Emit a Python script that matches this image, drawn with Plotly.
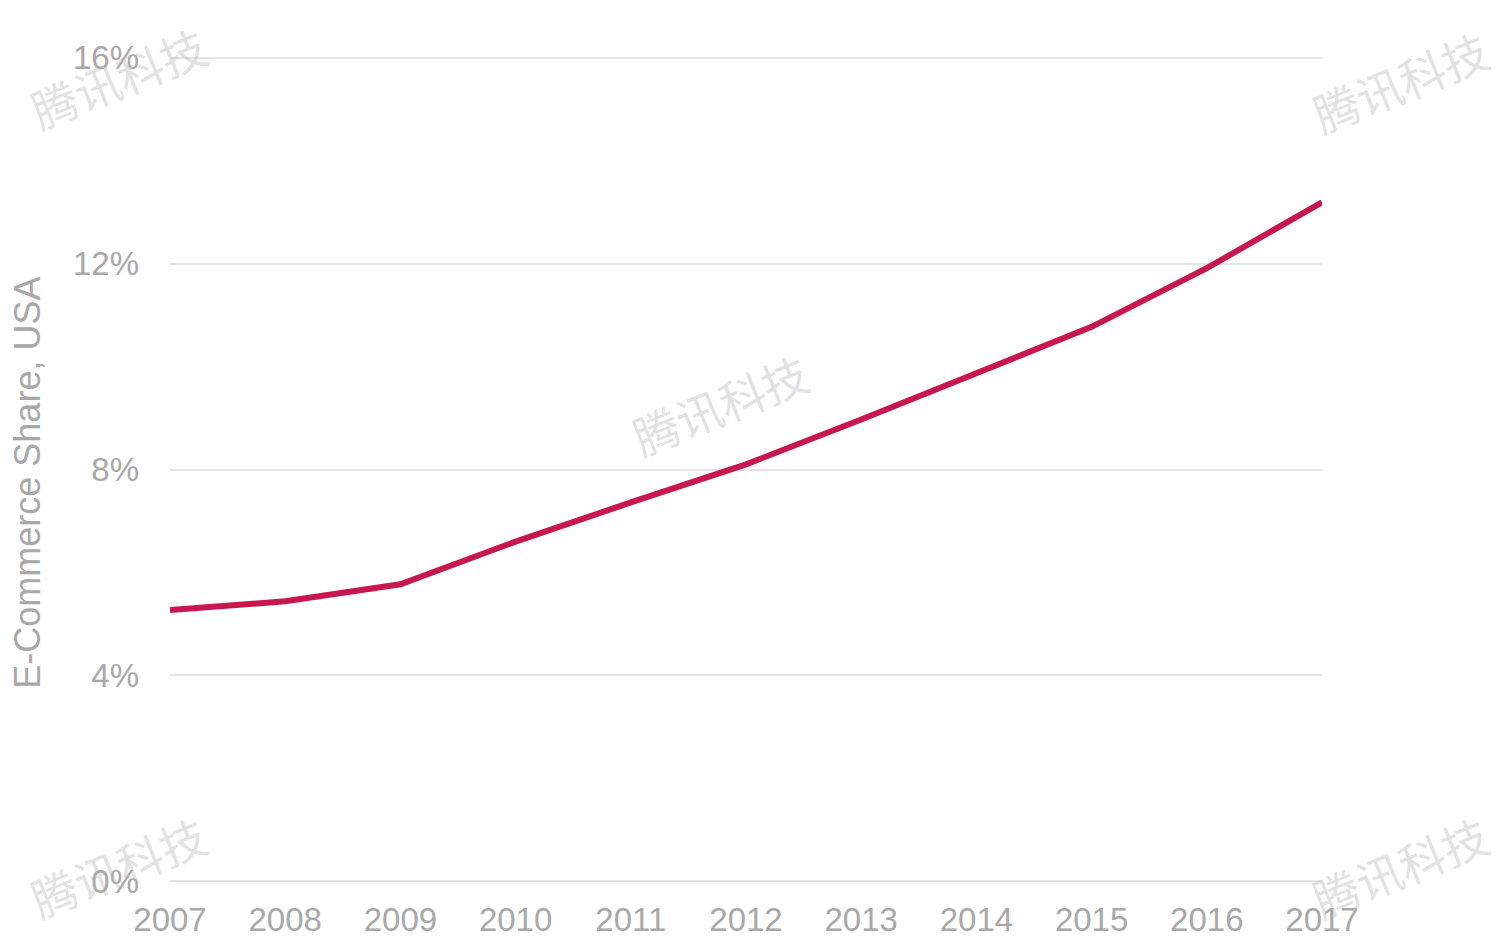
import plotly.graph_objects as go

# data
years = [2007, 2008, 2009, 2010, 2011, 2012, 2013, 2014, 2015, 2016, 2017]
ecommerce_share = [5.27, 5.44, 5.77, 6.6, 7.36, 8.1, 8.97, 9.88, 10.77, 11.91, 13.19]
y_ticks = [0, 4, 8, 12, 16]
y_tick_labels = ["0%", "4%", "8%", "12%", "16%"]

font_family = "Liberation Sans, Arial, sans-serif"
grey = "#A8A8A8"

fig = go.Figure()
fig.add_trace(go.Scatter(
    x=years, y=ecommerce_share,
    mode="lines",
    line=dict(color="#C8174F", width=6),
    showlegend=False,
))

# faint watermarks (paper coords)
marks = [(0.477, 0.579), (1.068, 0.97), (-0.045, 0.975), (-0.045, 0.02), (1.068, 0.02)]
for mx, my in marks:
    fig.add_annotation(
        x=mx, y=my, xref="paper", yref="paper", xanchor="center", yanchor="middle",
        text="腾讯科技", showarrow=False, textangle=-22,
        font=dict(family="Noto Sans CJK SC", size=46, color="rgba(180,180,180,0.4)"),
    )

fig.add_annotation(
    x=-0.1233, y=0.484, xref="paper", yref="paper", xanchor="center", yanchor="middle",
    text="E-Commerce Share, USA", showarrow=False, textangle=-90,
    font=dict(family=font_family, size=36, color=grey),
)

fig.update_layout(
    width=1510, height=942,
    margin=dict(l=162, r=196, t=48, b=60),
    plot_bgcolor="white", paper_bgcolor="white",
    font=dict(family=font_family, size=33, color=grey),
    xaxis=dict(
        range=[2007, 2017], tickvals=years, showgrid=False,
        zeroline=False, showline=False, ticks="",
        tickfont=dict(size=33, color=grey), ticklabelstandoff=14,
    ),
    yaxis=dict(
        range=[-0.03, 16.03], tickvals=y_ticks, ticktext=y_tick_labels,
        showgrid=True, gridcolor="#E4E4E4", gridwidth=2,
        zeroline=False, showline=False, ticks="",
        tickfont=dict(size=33, color=grey), ticklabelstandoff=30,
    ),
)

fig.write_html("out.html")
